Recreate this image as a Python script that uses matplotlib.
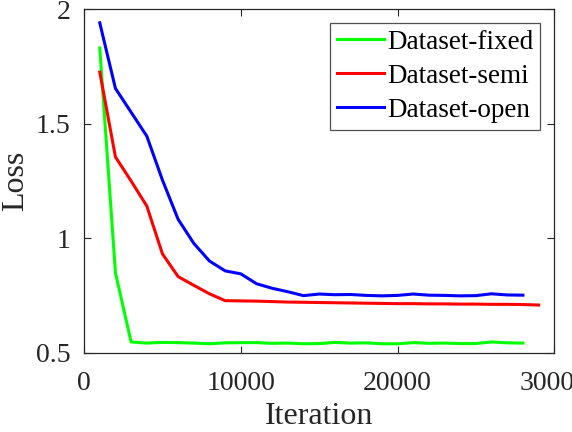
import matplotlib
matplotlib.use("Agg")
import matplotlib.pyplot as plt

# iterations sampled every 1000
iters = list(range(1000, 29000, 1000))
iters_semi = list(range(1000, 30000, 1000))

loss_fixed = [1.83, 0.85, 0.548, 0.543, 0.546, 0.545, 0.543, 0.540, 0.544, 0.545,
              0.545, 0.542, 0.543, 0.540, 0.541, 0.546, 0.543, 0.544, 0.540, 0.540,
              0.545, 0.542, 0.543, 0.541, 0.541, 0.548, 0.544, 0.543]
loss_semi = [1.725, 1.355, 1.25, 1.141, 0.932, 0.833, 0.795, 0.758, 0.728, 0.727,
             0.726, 0.724, 0.722, 0.721, 0.720, 0.719, 0.718, 0.717, 0.716, 0.715,
             0.715, 0.714, 0.714, 0.713, 0.713, 0.712, 0.712, 0.711, 0.709]
loss_open = [1.94, 1.654, 1.55, 1.446, 1.254, 1.083, 0.978, 0.901, 0.858, 0.845,
             0.802, 0.782, 0.767, 0.750, 0.757, 0.754, 0.755, 0.751, 0.749, 0.751,
             0.757, 0.752, 0.751, 0.749, 0.750, 0.758, 0.753, 0.752]

plt.rcParams['font.family'] = ['Liberation Serif', 'DejaVu Serif']

fig = plt.figure(figsize=(5.72, 4.32), dpi=100)
ax = fig.add_axes([0.147, 0.183, 0.822, 0.796])

ax.plot(iters, loss_fixed, color=(0, 1, 0), lw=2.2, label='Dataset-fixed')
ax.plot(iters_semi, loss_semi, color=(1, 0, 0), lw=2.2, label='Dataset-semi')
ax.plot(iters, loss_open, color=(0, 0, 1), lw=2.2, label='Dataset-open')

ax.set_xlim(0, 30000)
ax.set_ylim(0.5, 2)
ax.set_xticks([0, 10000, 20000, 30000])
ax.set_yticks([0.5, 1, 1.5, 2])
ax.set_yticklabels(['0.5', '1', '1.5', '2'])
ax.tick_params(direction='in', top=True, right=True, labelsize=20, colors='#262626',
               length=5, width=0.8)
ax.tick_params(axis='x', pad=13)
ax.tick_params(axis='y', pad=10)
for s in ax.spines.values():
    s.set_color('#262626')
    s.set_linewidth(0.9)

ax.set_xlabel('Iteration', fontsize=23, color='#262626', labelpad=4)
ax.set_ylabel('Loss', fontsize=23, color='#262626', labelpad=4)

leg = ax.legend(loc='upper right', fontsize=19.5, frameon=True, fancybox=False,
                edgecolor='#262626', handlelength=1.75, handletextpad=0.1,
                borderpad=0.25, labelspacing=0.33, borderaxespad=0.52)
leg.get_frame().set_linewidth(0.9)

fig.savefig('out.png', dpi=100)
